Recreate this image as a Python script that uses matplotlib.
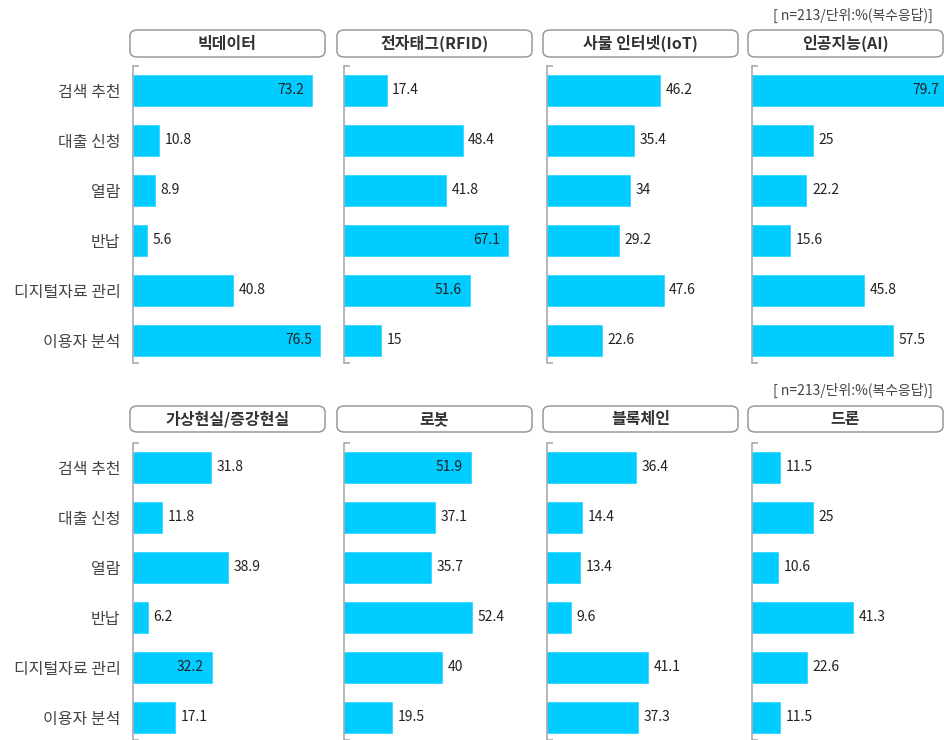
import matplotlib
matplotlib.use("Agg")
import matplotlib.pyplot as plt
from matplotlib.patches import FancyBboxPatch

plt.rcParams["font.family"] = ["Noto Sans CJK KR", "DejaVu Sans"]

# ---------------------------------------------------------------------------
# Data
# ---------------------------------------------------------------------------

categories = ["검색 추천", "대출 신청", "열람", "반납", "디지털자료 관리", "이용자 분석"]

panel_titles = [
    "빅데이터", "전자태그(RFID)", "사물 인터넷(IoT)", "인공지능(AI)",
    "가상현실/증강현실", "로봇", "블록체인", "드론",
]

big_data   = [73.2, 10.8, 8.9, 5.6, 40.8, 76.5]
rfid       = [17.4, 48.4, 41.8, 67.1, 51.6, 15]
iot        = [46.2, 35.4, 34, 29.2, 47.6, 22.6]
ai         = [79.7, 25, 22.2, 15.6, 45.8, 57.5]
vr_ar      = [31.8, 11.8, 38.9, 6.2, 32.2, 17.1]
robot      = [51.9, 37.1, 35.7, 52.4, 40, 19.5]
blockchain = [36.4, 14.4, 13.4, 9.6, 41.1, 37.3]
drone      = [11.5, 25, 10.6, 41.3, 22.6, 11.5]

note = "[ n=213/단위:%(복수응답)]"

# ---------------------------------------------------------------------------
# Layout / style
# ---------------------------------------------------------------------------

series = [big_data, rfid, iot, ai, vr_ar, robot, blockchain, drone]

# labels drawn inside the bar end (panel, category index)
inside = {(0, 0), (0, 5), (1, 3), (1, 4), (3, 0), (4, 4), (5, 0)}

W, H = 944, 740
BAR = "#00CCFF"
axis_left = [133, 344, 547, 752]
box_left = [130, 337, 543, 748]
row_axis_top = [66, 443]
row_box = [(30, 57), (406, 432)]
ax_w, ax_h = 196, 297
ylo, yhi = -0.486, 5.454

fig = plt.figure(figsize=(W / 100, H / 100), dpi=100)

for i, vals in enumerate(series):
    r, c = divmod(i, 4)
    top = row_axis_top[r]
    ax = fig.add_axes([axis_left[c] / W, 1 - (top + ax_h) / H, ax_w / W, ax_h / H])
    y = range(len(categories))
    ax.barh(y, vals, height=0.614, color=BAR, edgecolor="#33D6FF", linewidth=0.6)
    ax.set_xlim(0, 80)
    ax.set_ylim(yhi, ylo)

    for j, v in enumerate(vals):
        txt = f"{v:g}"
        if (i, j) in inside:
            ax.annotate(txt, (v, j), xytext=(-6, 0), textcoords="offset points",
                        ha="right", va="center", fontsize=10, color="#222222")
        else:
            ax.annotate(txt, (v, j), xytext=(4, 0), textcoords="offset points",
                        ha="left", va="center", fontsize=10, color="#222222")

    for s in ["top", "right", "bottom"]:
        ax.spines[s].set_visible(False)
    ax.spines["left"].set_color("#aaaaaa")
    ax.spines["left"].set_linewidth(1.2)
    ax.set_xticks([])
    ax.set_yticks(list(y))
    if c == 0:
        ax.set_yticklabels(categories, fontsize=11.5, color="#444444")
    else:
        ax.set_yticklabels([])
    ax.tick_params(axis="y", which="major", length=0, pad=9)
    # small caps at both ends of the axis line
    ax.set_yticks([ylo, yhi], minor=True)
    ax.tick_params(axis="y", which="minor", direction="in", length=4,
                   color="#aaaaaa", width=1.2)

    # rounded header box
    b0, b1 = row_box[r]
    box = FancyBboxPatch((box_left[c] / W, 1 - b1 / H), 195 / W, (b1 - b0) / H,
                         boxstyle="round,pad=0,rounding_size=0.008",
                         transform=fig.transFigure, facecolor="white",
                         edgecolor="#999999", linewidth=1.1)
    fig.add_artist(box)
    fig.text((box_left[c] + 97.5) / W, 1 - (b0 + b1) / 2 / H, panel_titles[i],
             ha="center", va="center", fontsize=11.5, fontweight="bold", color="#333333")

fig.text(933 / W, 1 - 15 / H, note, ha="right", va="center", fontsize=10, color="#444444")
fig.text(933 / W, 1 - 390 / H, note, ha="right", va="center", fontsize=10, color="#444444")

fig.savefig("out.png", dpi=100)
